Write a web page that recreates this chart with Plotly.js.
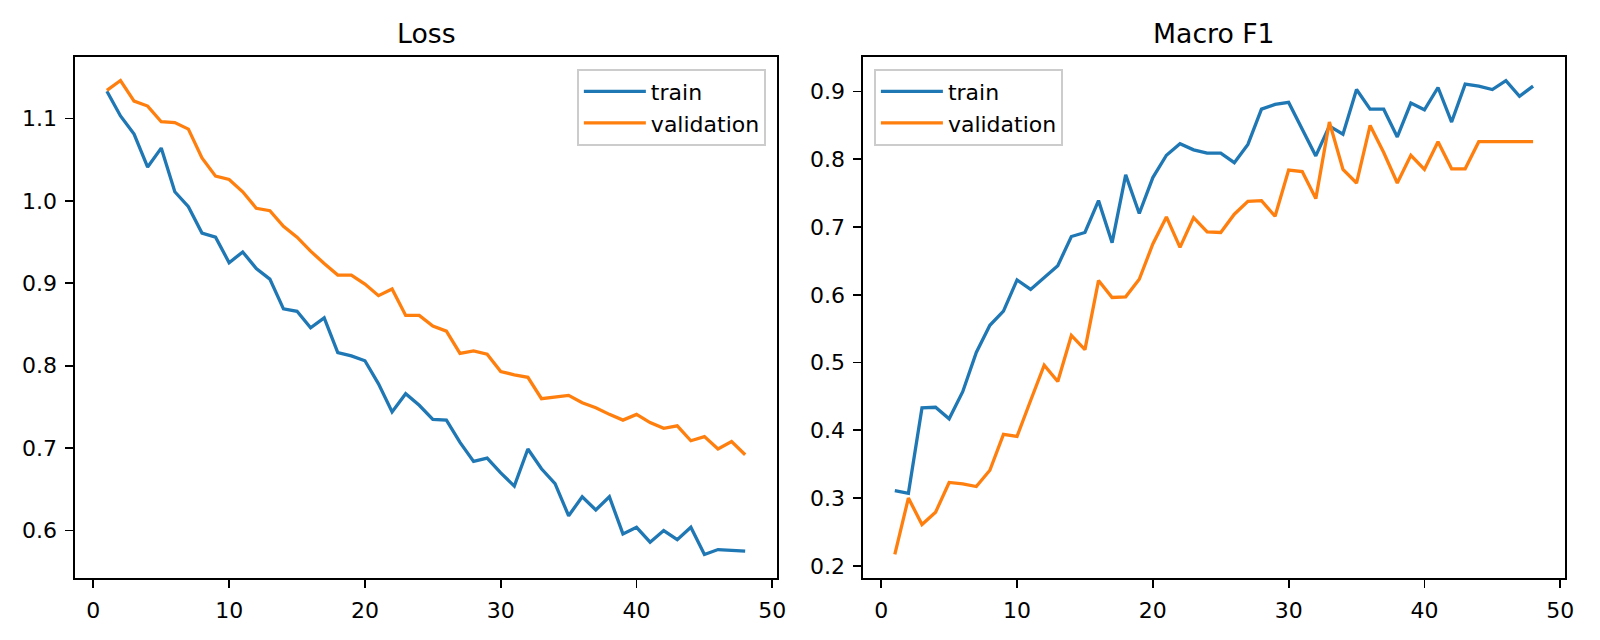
<!DOCTYPE html>
<html>
<head>
<meta charset="utf-8">
<script src="https://cdn.plot.ly/plotly-3.0.1.min.js"></script>
<style>html,body{margin:0;padding:0;background:#fff;}#chart{width:1600px;height:640px;}</style>
</head>
<body>
<div id="chart"></div>
<script>
const epochs = [1,2,3,4,5,6,7,8,9,10,11,12,13,14,15,16,17,18,19,20,21,22,23,24,25,26,27,28,29,30,31,32,33,34,35,36,37,38,39,40,41,42,43,44,45,46,47,48];

const lossTrain = [1.133,1.103,1.081,1.041,1.064,1.011,0.993,0.961,0.956,0.925,0.938,0.918,0.905,0.869,0.866,0.846,0.858,0.816,0.812,0.806,0.778,0.744,0.766,0.752,0.735,0.734,0.707,0.684,0.688,0.670,0.654,0.699,0.675,0.657,0.618,0.641,0.625,0.641,0.596,0.604,0.586,0.600,0.589,0.604,0.571,0.577,0.576,0.575];

const lossVal = [1.134,1.146,1.121,1.115,1.096,1.095,1.087,1.052,1.030,1.026,1.011,0.991,0.988,0.969,0.956,0.939,0.924,0.910,0.910,0.899,0.885,0.893,0.861,0.861,0.848,0.842,0.815,0.818,0.814,0.793,0.789,0.786,0.760,0.762,0.764,0.755,0.749,0.741,0.734,0.741,0.731,0.724,0.727,0.709,0.714,0.699,0.708,0.692];

const f1Train = [0.311,0.307,0.433,0.434,0.417,0.457,0.515,0.555,0.576,0.622,0.608,0.626,0.643,0.686,0.692,0.739,0.677,0.777,0.720,0.773,0.806,0.823,0.814,0.809,0.809,0.795,0.822,0.874,0.881,0.884,0.845,0.805,0.849,0.837,0.903,0.874,0.874,0.833,0.883,0.873,0.906,0.855,0.911,0.908,0.903,0.916,0.893,0.908];

const f1Val = [0.217,0.300,0.261,0.279,0.323,0.321,0.317,0.341,0.394,0.391,0.444,0.496,0.472,0.540,0.519,0.621,0.596,0.597,0.623,0.675,0.715,0.670,0.714,0.693,0.692,0.719,0.738,0.739,0.716,0.784,0.782,0.742,0.855,0.785,0.765,0.850,0.810,0.765,0.806,0.785,0.826,0.786,0.786,0.826,0.826,0.826,0.826,0.826];

const seriesNames = ['train', 'validation'];
const panelTitles = ['Loss', 'Macro F1'];

const BLUE = '#1f77b4', ORANGE = '#ff7f0e';
const FONT = 'DejaVu Sans, sans-serif';
const LW = 3.3;

function line(x, y, name, color, xa, ya, leg) {
  return {x: x, y: y, name: name, type: 'scatter', mode: 'lines',
    line: {color: color, width: LW}, xaxis: xa, yaxis: ya, legend: leg, hoverinfo: 'skip'};
}

const data = [
  line(epochs, lossTrain, seriesNames[0], BLUE, 'x', 'y', 'legend'),
  line(epochs, lossVal, seriesNames[1], ORANGE, 'x', 'y', 'legend'),
  line(epochs, f1Train, seriesNames[0], BLUE, 'x2', 'y2', 'legend2'),
  line(epochs, f1Val, seriesNames[1], ORANGE, 'x2', 'y2', 'legend2')
];

const axisCommon = {
  showline: true, mirror: true, linecolor: '#000', linewidth: 1.8,
  ticks: 'outside', ticklen: 7.8, tickwidth: 1.8, tickcolor: '#000',
  showgrid: false, zeroline: false,
  tickfont: {family: FONT, size: 22, color: '#000'}
};

const legendCommon = {
  bgcolor: 'rgba(255,255,255,0.8)', bordercolor: '#cccccc', borderwidth: 1.8,
  font: {family: FONT, size: 22, color: '#000'}, yanchor: 'top', tracegroupgap: 0,
  itemwidth: 62
};

const layout = {
  width: 1600, height: 640,
  margin: {l: 75, r: 35.3, t: 57.3, b: 62.3, pad: 0},
  paper_bgcolor: '#fff', plot_bgcolor: '#fff',
  showlegend: true,
  font: {family: FONT, color: '#000'},
  xaxis: Object.assign({}, axisCommon, {domain: [0, 0.4712], anchor: 'y', range: [-1.35, 50.35], tick0: 0, dtick: 10, ticklabelstandoff: 4}),
  yaxis: Object.assign({}, axisCommon, {domain: [0, 1], anchor: 'x', range: [0.5425, 1.1745], tick0: 0, dtick: 0.1, tickformat: '.1f', ticklabelstandoff: 4}),
  xaxis2: Object.assign({}, axisCommon, {domain: [0.5288, 1], anchor: 'y2', range: [-1.35, 50.35], tick0: 0, dtick: 10, ticklabelstandoff: 4}),
  yaxis2: Object.assign({}, axisCommon, {domain: [0, 1], anchor: 'x2', range: [0.182, 0.951], tick0: 0, dtick: 0.1, tickformat: '.1f', ticklabelstandoff: 4}),
  legend: Object.assign({}, legendCommon, {x: 0.4638, xanchor: 'right', y: 0.9775}),
  legend2: Object.assign({}, legendCommon, {x: 0.5363, xanchor: 'left', y: 0.9775}),
  annotations: [
    {text: panelTitles[0], xref: 'x domain', yref: 'paper', x: 0.5, y: 1, xanchor: 'center', yanchor: 'bottom', yshift: 6, showarrow: false, font: {family: FONT, size: 26.7, color: '#000'}},
    {text: panelTitles[1], xref: 'x2 domain', yref: 'paper', x: 0.5, y: 1, xanchor: 'center', yanchor: 'bottom', yshift: 6, showarrow: false, font: {family: FONT, size: 26.7, color: '#000'}}
  ]
};

Plotly.newPlot('chart', data, layout, {displayModeBar: false, staticPlot: true});
</script>
</body>
</html>
